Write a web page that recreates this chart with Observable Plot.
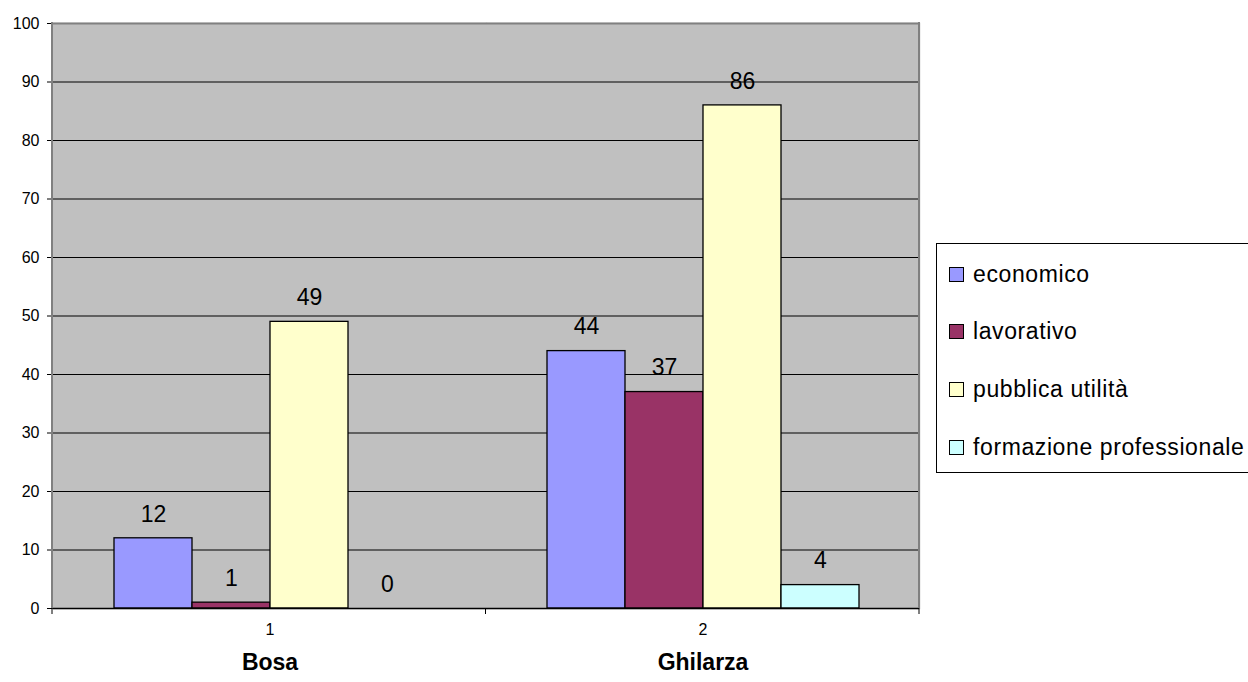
<!DOCTYPE html>
<html><head><meta charset="utf-8">
<script src="https://cdn.jsdelivr.net/npm/d3@7"></script>
<script src="https://cdn.jsdelivr.net/npm/@observablehq/plot@0.6"></script>
<style>
body{margin:0;background:#fff;overflow:hidden;font-family:"Liberation Sans",Arial,sans-serif;}
#wrap{position:relative;width:1248px;height:682px;overflow:hidden;}
#chart{position:absolute;left:0;top:0;}
#chart svg [aria-label^="y-axis tick label"]{font-size:16px;}
#legend{position:absolute;left:936px;top:243px;width:340px;height:230px;border:1px solid #000;box-sizing:border-box;background:#fff;}
.item{position:absolute;left:12px;height:26px;display:flex;align-items:center;font-size:23px;letter-spacing:0.6px;color:#000;white-space:nowrap;}
.sw{width:13px;height:13px;border:1px solid #000;margin-right:9px;flex:none;}
</style></head><body><div id="wrap"><div id="chart"></div><div id="legend"></div></div>
<script>
const categories = ["1", "2"];
const places = ["Bosa", "Ghilarza"];
const series = ["economico", "lavorativo", "pubblica utilità", "formazione professionale"];
const seriesColors = ["#9999ff", "#993366", "#ffffcc", "#ccffff"];
const bosaValues = [12, 1, 49, 0];
const ghilarzaValues = [44, 37, 86, 4];
const yTicks = [0, 10, 20, 30, 40, 50, 60, 70, 80, 90, 100];

const valuesByPlace = [bosaValues, ghilarzaValues];
const rows = categories.flatMap((cat, i) => series.map((s, j) => ({cat, place: places[i], series: s, value: valuesByPlace[i][j]})));
const groups = categories.map((cat, i) => ({cat, place: places[i]}));

const chart = Plot.plot({
  width: 930, height: 682,
  marginLeft: 52, marginRight: 11, marginTop: 23, marginBottom: 74,
  style: {fontFamily: "Liberation Sans, Arial, sans-serif", fontSize: "16px", background: "transparent", color: "#000", overflow: "visible"},
  fx: {domain: categories, padding: 0, axis: null, label: null},
  x: {domain: series, paddingInner: 0, paddingOuter: 0.75, axis: null},
  y: {domain: [0, 100], ticks: yTicks, tickSize: 6, tickPadding: 8, label: null},
  color: {domain: series, range: seriesColors},
  marks: [
    Plot.frame({fill: "#c0c0c0", stroke: "#c0c0c0", strokeWidth: 1.5}),
    Plot.ruleY(yTicks.slice(1, -1), {stroke: "#000", strokeWidth: 1}),
    Plot.ruleY([100], {stroke: "#808080", strokeWidth: 2}),
    Plot.barY(rows.filter(d => d.value > 0), {fx: "cat", x: "series", y: "value", fill: "series", stroke: "#000", strokeWidth: 1.3}),
    Plot.ruleY([0], {stroke: "#000", strokeWidth: 1.5}),
    Plot.text(rows, {fx: "cat", x: "series", y: "value", text: d => String(d.value), dy: -24, fontSize: 23, fill: "#000"}),
    Plot.text(groups, {fx: "cat", frameAnchor: "bottom", dy: 26, text: "cat", fontSize: 16, fill: "#000"}),
    Plot.text(groups, {fx: "cat", frameAnchor: "bottom", dy: 61, text: "place", fontSize: 23, fontWeight: "bold", fill: "#000"})
  ]
});
document.getElementById("chart").appendChild(chart);

// axis lines and category boundary ticks, positioned from Plot's own scales
const svgEl = chart.tagName.toLowerCase() === "svg" ? chart : chart.querySelector("svg");
const fxs = chart.scale("fx"), ys = chart.scale("y");
const fx = d3.scaleBand(fxs.domain, fxs.range).padding(0);
const y = d3.scaleLinear(ys.domain, ys.range);
const edges = [...categories.map(c => fx(c)), fx(categories[categories.length - 1]) + fx.bandwidth()];
const g = d3.select(svgEl).append("g");
g.selectAll("line.edge").data(edges).join("line")
  .attr("x1", d => d).attr("x2", d => d).attr("y1", y(0)).attr("y2", y(0) + 6)
  .attr("stroke", "#000").attr("stroke-width", 1);
g.append("line").attr("x1", edges[0]).attr("x2", edges[0]).attr("y1", y(0)).attr("y2", y(100) - 1)
  .attr("stroke", "#808080").attr("stroke-width", 2);
g.append("line").attr("x1", edges[edges.length - 1]).attr("x2", edges[edges.length - 1]).attr("y1", y(0)).attr("y2", y(100) - 1)
  .attr("stroke", "#808080").attr("stroke-width", 2);

// legend
const legend = d3.select("#legend");
series.forEach((s, i) => {
  const item = legend.append("div").attr("class", "item").style("top", (17 + i * 57.7) + "px");
  item.append("div").attr("class", "sw").style("background", seriesColors[i]);
  item.append("span").text(s);
});
</script></body></html>
